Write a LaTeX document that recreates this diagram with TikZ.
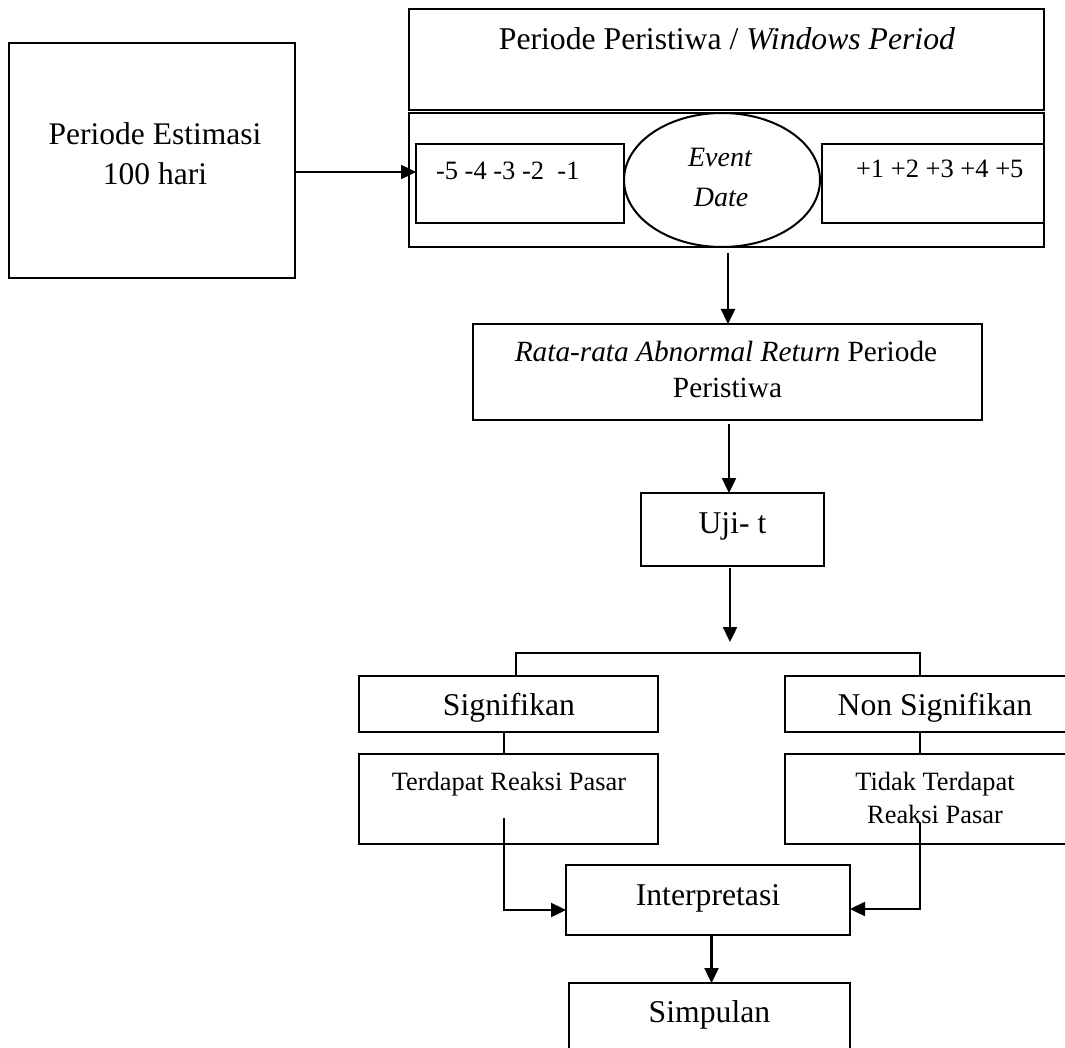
\documentclass[tikz,border=0pt]{standalone}
\usepackage{fontspec}
\setmainfont{Liberation Serif}
\usetikzlibrary{shapes.geometric,arrows.meta,calc}
\tikzset{
  box/.style={draw, line width=2pt, rectangle, inner sep=0pt, outer sep=0pt},
  oval/.style={draw, line width=2pt, ellipse, inner sep=0pt, outer sep=0pt, fill=white},
  txt/.style={inner sep=0pt, outer sep=0pt, anchor=base},
  line/.style={line width=2.4pt},
  arr/.style={line width=2.4pt, -{Triangle[length=15pt,width=14pt]}},
  fbig/.style={font=\fontsize{31.7pt}{38pt}\selectfont},
  fest/.style={font=\fontsize{31.5pt}{38pt}\selectfont},
  frata/.style={font=\fontsize{29.3pt}{35pt}\selectfont},
  fevent/.style={font=\fontsize{28pt}{34pt}\selectfont\itshape},
  fnum/.style={font=\fontsize{26.5pt}{32pt}\selectfont},
  fsmall/.style={font=\fontsize{26.4pt}{32pt}\selectfont}
}
\begin{document}
\begin{tikzpicture}[x=1pt,y=-1pt]
\useasboundingbox (0,0) rectangle (1065,1048);
\clip (0,0) rectangle (1065,1048);
\fill[white] (0,0) rectangle (1065,1048);

% boxes
\node[box, minimum width=286pt, minimum height=235pt] (est) at (152,160.5) {};
\node[box, minimum width=635pt, minimum height=101pt] (top) at (726.5,59.5) {};
\node[box, minimum width=635pt, minimum height=134pt] (low) at (726.5,180) {};
\node[box, minimum width=208pt, minimum height=79pt] (lbox) at (520,183.5) {};
\node[box, minimum width=222pt, minimum height=79pt] (rbox) at (933,183.5) {};
\node[oval, minimum width=196pt, minimum height=134pt] (ev) at (722,180) {};
\node[box, minimum width=509pt, minimum height=96pt] (rata) at (727.5,372) {};
\node[box, minimum width=183pt, minimum height=73pt] (uji) at (732.5,529.5) {};
\node[box, minimum width=299pt, minimum height=56pt] (sig) at (508.5,704) {};
\node[box, minimum width=300pt, minimum height=56pt] (nsig) at (935,704) {};
\node[box, minimum width=299pt, minimum height=90pt] (ter) at (508.5,799) {};
\node[box, minimum width=300pt, minimum height=90pt] (tter) at (935,799) {};
\node[box, minimum width=284pt, minimum height=70pt] (interp) at (708,900) {};
\node[box, minimum width=281pt, minimum height=90pt] (simp) at (709.5,1028) {};

% texts
\node[txt, fest] (tEst1) at (155,145) {Periode Estimasi};
\node[txt, fest] (tEst2) at (155,185) {100 hari};
\node[txt, fbig] (tTop) at (727,50) {Periode Peristiwa / \textit{Windows Period}};
\node[txt, fnum, anchor=base west] (tNeg) at (436,180) {-5 -4 -3 -2\ \ -1};
\node[txt, fnum, anchor=base west] (tPos) at (856,178) {+1 +2 +3 +4 +5};
\node[txt, fevent] (tEv1) at (720,167) {Event};
\node[txt, fevent] (tEv2) at (721,207) {Date};
\node[txt, frata] (tRata1) at (726,361) {\textit{Rata-rata Abnormal Return} Periode};
\node[txt, frata] (tRata2) at (727.5,397) {Peristiwa};
\node[txt, fbig] (tUji) at (732.5,533) {Uji- t};
\node[txt, fbig] (tSig) at (509,715) {Signifikan};
\node[txt, fbig] (tNsig) at (935,715) {Non Signifikan};
\node[txt, fsmall] (tTer) at (509,790) {Terdapat Reaksi Pasar};
\node[txt, fsmall] (tTter1) at (935,790) {Tidak Terdapat};
\node[txt, fsmall] (tTter2) at (935,823) {Reaksi Pasar};
\node[txt, fbig] (tInt) at (708,905) {Interpretasi};
\node[txt, fbig] (tSimp) at (709.5,1022) {Simpulan};

% connectors
\coordinate (a1) at (295,172);
\draw[arr] (est.east |- a1) -- (lbox.west |- a1);
\draw[arr] ($(low.south)+(1.5,6)$) -- ($(rata.north)+(0.5,0)$);
\draw[arr] ($(rata.south)+(1.5,4)$) -- ($(uji.north)+(-3.5,0)$);
\coordinate (sp) at (730,642);
\draw[arr] ($(uji.south)+(-2.5,2)$) -- (sp);
\draw[line] ($(sig.north)+(7.5,0)$) -- ++(0,-23) -| ($(nsig.north)+(-15,0)$);
\draw[line] ($(sig.south)+(-4.5,0)$) -- ($(ter.north)+(-4.5,0)$);
\draw[line] ($(nsig.south)+(-15,0)$) -- ($(tter.north)+(-15,0)$);
\draw[arr] ($(ter.center)+(-4.5,19)$) |- ($(interp.west)+(0,10)$);
\draw[arr] ($(tter.center)+(-15,24)$) |- ($(interp.east)+(0,9)$);
\draw[arr] ($(interp.south)+(3.5,0)$) -- ($(simp.north)+(2,0)$);
\end{tikzpicture}
\end{document}
